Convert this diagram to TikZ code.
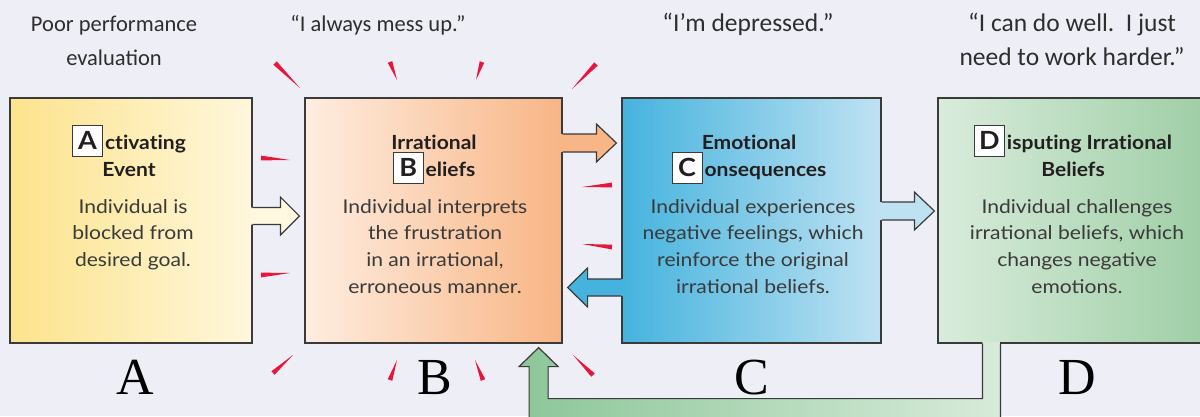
\documentclass[tikz,border=0pt]{standalone}
\usepackage{fontspec}
\setmainfont{Lato}[FakeStretch=1.11]
\newfontfamily\titlefont{Lato}[FakeStretch=1.08, Ligatures=NoCommon]
\newfontfamily\topfont{Carlito}
\newfontfamily\bigfont{Liberation Serif}
\usetikzlibrary{calc}
\definecolor{bg}{HTML}{EEEEF6}
\definecolor{lineC}{HTML}{3A3A3A}
\definecolor{txt}{HTML}{3A3A3A}
\definecolor{ttl}{HTML}{231F20}
\definecolor{topC}{HTML}{2E2E2E}
\definecolor{aL}{HTML}{FDE38C}
\definecolor{aR}{HTML}{FEF7DC}
\definecolor{bL}{HTML}{FEEDE0}
\definecolor{bR}{HTML}{F8B585}
\definecolor{cL}{HTML}{45B3DE}
\definecolor{cR}{HTML}{BFE2F2}
\definecolor{dL}{HTML}{D9ECDC}
\definecolor{dR}{HTML}{9DCDA4}
\definecolor{gL}{HTML}{8DC699}
\definecolor{gR}{HTML}{D8EBDA}
\definecolor{abF}{HTML}{FFF8E0}
\definecolor{bcF}{HTML}{F8B686}
\definecolor{cbF}{HTML}{45B3DE}
\definecolor{cdF}{HTML}{BEE2F2}
\definecolor{spikeC}{HTML}{E8173A}
\newcommand\ml[1]{\begin{tabular}[t]{@{}c@{}}#1\end{tabular}}
\newcommand\LB[1]{\smash{\setlength\fboxsep{0pt}\setlength\fboxrule{1pt}\fcolorbox{lineC}{white}{\makebox[29pt]{\rule[-7pt]{0pt}{30pt}\titlefont\fontsize{25}{25}\selectfont\bfseries #1}}}\hspace{2pt}}
% #1 start (at box edge), #2 tip, #3 half shaft, #4 half head, #5 head length (signed), #6 fill, #7 inward offset
\newcommand\harrow[7]{%
  \fill[#6] ($(#1)+(#7,#3)$) -- ($(#2)+({-(#5)},#3)$) -- ($(#2)+({-(#5)},#4)$) -- (#2)
    -- ($(#2)+({-(#5)},-#4)$) -- ($(#2)+({-(#5)},-#3)$) -- ($(#1)+(#7,-#3)$) -- cycle;
  \draw[arrline] ($(#1)+(0,#3)$) -- ($(#2)+({-(#5)},#3)$) -- ($(#2)+({-(#5)},#4)$) -- (#2)
    -- ($(#2)+({-(#5)},-#4)$) -- ($(#2)+({-(#5)},-#3)$) -- ($(#1)+(0,-#3)$);}
\newcommand\spike[2]{\fill[spikeC] ($(#1)!2.4pt!90:(#2)$) -- (#2) -- ($(#1)!2.4pt!-90:(#2)$) -- cycle;}
\tikzset{
  box/.style={draw=lineC, line width=1.2pt, inner sep=0pt},
  arrline/.style={draw=lineC, line width=1.2pt, line join=miter},
  toptext/.style={font=\topfont\fontsize{22.5}{33.3}\selectfont, text=topC, inner sep=0pt, anchor=base},
  toplarge/.style={font=\topfont\fontsize{25.5}{33.3}\selectfont},
  title/.style={font=\titlefont\bfseries\fontsize{19.5}{27}\selectfont, text=ttl, inner sep=0pt, anchor=base},
  body/.style={font=\fontsize{19}{26.7}\selectfont, text=txt, inner sep=0pt, anchor=base},
  big/.style={font=\bigfont\fontsize{52}{52}\selectfont, text=black, inner sep=0pt, anchor=base},
}
\begin{document}
\begin{tikzpicture}[x=1pt,y=-1pt]
\path[use as bounding box] (0,0) rectangle (1200,416);
\fill[bg] (0,0) rectangle (1200,416);
\clip (0,0) rectangle (1200,416);

% spikes around B
\spike{275,63}{300,88}
\spike{390,62}{397,80}
\spike{482,62}{476,80}
\spike{596,64}{572,89}
\spike{261,158}{290,160}
\spike{261,275}{290,273}
\spike{612,185}{582,187}
\spike{612,247}{582,244}
\spike{273,373}{293,355}
\spike{390,380}{397,360}
\spike{483,380}{475,360}
\spike{593,375}{573,355}

% boxes
\node[box, left color=aL, right color=aR, minimum width=242pt, minimum height=245pt] (A) at (131,220.5) {};
\node[box, left color=bL, right color=bR, minimum width=257pt, minimum height=245pt] (B) at (433.5,220.5) {};
\node[box, left color=cL, right color=cR, minimum width=259pt, minimum height=245pt] (C) at (751.5,220.5) {};
\node[box, left color=dL, right color=dR, minimum width=276pt, minimum height=245pt] (D) at (1076,220.5) {};

% arrows
\coordinate (abS) at (A.east |- 0,216);
\coordinate (abT) at ($(B.west |- abS)+(-5,0)$);
\harrow{abS}{abT}{8.5}{19}{19}{abF}{-1.5}
\coordinate (bcS) at (B.east |- 0,143);
\coordinate (bcT) at ($(C.west |- bcS)+(-5,0)$);
\harrow{bcS}{bcT}{9}{19}{20}{bcF}{-1.5}
\coordinate (cbS) at (C.west |- 0,287.5);
\coordinate (cbT) at ($(B.east |- cbS)+(5,0)$);
\harrow{cbS}{cbT}{8.5}{19.5}{-20}{cbF}{1.5}
\coordinate (cdS) at (C.east |- 0,211);
\coordinate (cdT) at ($(D.west |- cdS)+(-3,0)$);
\harrow{cdS}{cdT}{9}{19}{20}{cdF}{-1.5}

% green return arrow D -> B
\coordinate (gS) at ($(D.south west)+(45,0)$);
\coordinate (gT) at ($(B.south east)+(-24,4)$);
\fill[left color=gL, right color=gR] ($(gS)+(0,-1.5)$) -- ($(gS)+(0,55)$) -- ($(gT)+(9.5,51)$) -- ($(gT)+(9.5,19)$)
  -- ($(gT)+(19.5,19)$) -- (gT) -- ($(gT)+(-19.5,19)$) -- ($(gT)+(-9.5,19)$) -- ($(gT)+(-9.5,90)$)
  -- ($(gS)+(18,94)$) -- ($(gS)+(18,-1.5)$) -- cycle;
\draw[arrline] (gS) -- ($(gS)+(0,55)$) -- ($(gT)+(9.5,51)$) -- ($(gT)+(9.5,19)$)
  -- ($(gT)+(19.5,19)$) -- (gT) -- ($(gT)+(-19.5,19)$) -- ($(gT)+(-9.5,19)$) -- ($(gT)+(-9.5,90)$)
  -- ($(gS)+(18,94)$) -- ($(gS)+(18,0)$);

% top texts
\node[toptext] (tA) at (114,31.7) {\ml{Poor performance\\evaluation}};
\node[toptext] (tB) at (378,31.7) {“I always mess up.”};
\node[toptext, toplarge] (tC) at (748,31.7) {“I’m depressed.”};
\node[toptext, toplarge] (tD) at (1072,31.7) {\ml{“I can do well.~~I just\\need to work harder.”}};

% titles
\node[title] (hA) at (129,149) {\ml{\LB{A}ctivating\\Event}};
\node[title] (hB) at (434,149) {\ml{Irrational\\\LB{B}eliefs}};
\node[title] (hC) at (749,149) {\ml{Emotional\\\LB{C}onsequences}};
\node[title] (hD) at (1073,149) {\ml{\LB{D}isputing Irrational\\Beliefs}};

% bodies
\node[body] (bA) at (133,213) {\ml{Individual is\\blocked from\\desired goal.}};
\node[body] (bB) at (435,213) {\ml{Individual interprets\\the frustration\\in an irrational,\\erroneous manner.}};
\node[body] (bC) at (753,213) {\ml{Individual experiences\\negative feelings, which\\reinforce the original\\irrational beliefs.}};
\node[body] (bD) at (1077,213) {\ml{Individual challenges\\irrational beliefs, which\\changes negative\\emotions.}};

% big letters
\node[big] (LA) at (135,394) {A};
\node[big] (LBig) at (435,394) {B};
\node[big] (LC) at (752,394) {C};
\node[big] (LD) at (1077,394) {D};
\end{tikzpicture}
\end{document}
